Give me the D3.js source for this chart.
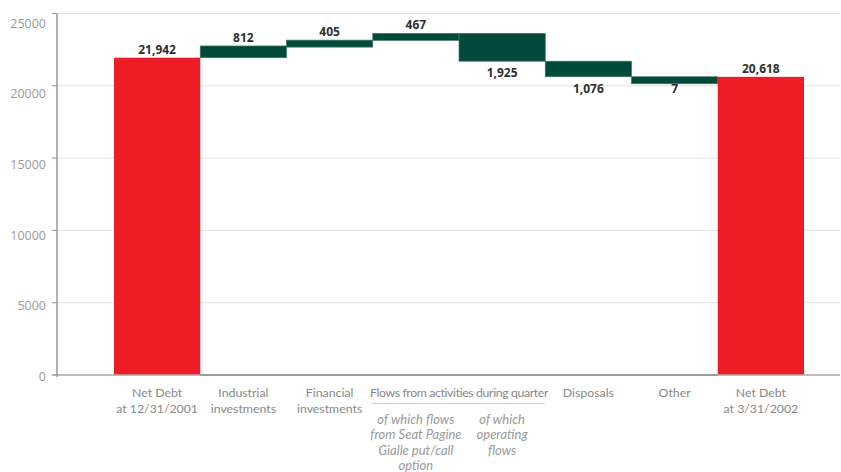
<!DOCTYPE html>
<html>
<head>
<meta charset="utf-8">
<script src="https://cdn.jsdelivr.net/npm/d3@7"></script>
<style>
  html, body { margin: 0; padding: 0; background: #fff; }
  svg { display: block; }
</style>
</head>
<body>
<svg id="chart" width="841" height="472"></svg>
<script>
// ---------------- DATA ----------------
const categories = ["start", "industrial", "financial", "seat", "operating", "disposals", "other", "end"];
const categoryLabels = [
  ["Net Debt", "at 12/31/2001"],
  ["Industrial", "investments"],
  ["Financial", "investments"],
  [],
  [],
  ["Disposals"],
  ["Other"],
  ["Net Debt", "at 3/31/2002"]
];
const subLabels = [
  [], [], [],
  ["of which flows", "from Seat Pagine", "Gialle put/call", "option"],
  ["of which", "operating", "flows"],
  [], [], []
];
const groupLabel = "Flows from activities during quarter";
const groupMembers = ["seat", "operating"];
const values = [21942, 812, 405, 467, -1925, -1076, -7, 20618];
const kinds = ["total", "delta", "delta", "delta", "delta", "delta", "delta", "total"];
const valueLabels = ["21,942", "812", "405", "467", "1,925", "1,076", "7", "20,618"];
const yTicks = [0, 5000, 10000, 15000, 20000, 25000];

// ---------------- LAYOUT ----------------
const svg = d3.select("#chart");
const axisX = 57, rightEdge = 840;
const y = d3.scaleLinear().domain([0, 25000]).range([375, 13.5]);
const yLabel = d3.scaleLinear().domain([0, 25000]).range([381, 27.5]);
const x = d3.scaleBand().domain(categories).range([114, 804]).padding(0);
const bw = x.bandwidth();

const RED = "#ee1c25", GREEN = "#004a3b";

// waterfall computation
let running = 0;
const bars = categories.map((c, i) => {
  let y0, y1;
  if (kinds[i] === "total") { y0 = 0; y1 = values[i]; running = values[i]; }
  else { y0 = running; y1 = running + values[i]; running = y1; }
  return { key: c, v: values[i], kind: kinds[i], lo: Math.min(y0, y1), hi: Math.max(y0, y1), label: valueLabels[i] };
});

// gridlines
svg.append("g").selectAll("line").data(yTicks.filter(d => d > 0)).join("line")
  .attr("x1", axisX - 5).attr("x2", rightEdge)
  .attr("y1", d => y(d)).attr("y2", d => y(d))
  .attr("stroke", "#e2e2e2").attr("stroke-width", 1);

// y tick marks
svg.append("g").selectAll("line").data(yTicks).join("line")
  .attr("x1", axisX - 5).attr("x2", axisX)
  .attr("y1", d => y(d)).attr("y2", d => y(d))
  .attr("stroke", "#999").attr("stroke-width", 1);

// y tick labels
svg.append("g").selectAll("text").data(yTicks).join("text")
  .attr("x", axisX - 11).attr("y", d => yLabel(d))
  .attr("text-anchor", "end")
  .attr("font-family", "'Open Sans', sans-serif").attr("font-size", 12.5)
  .attr("fill", "#9a9a9a")
  .text(d => d);

// bars
svg.append("g").selectAll("rect").data(bars).join("rect")
  .attr("x", d => x(d.key))
  .attr("width", bw)
  .attr("y", d => y(d.hi))
  .attr("height", d => Math.max(y(d.lo) - y(d.hi), d.kind === "delta" ? 7 : 0))
  .attr("fill", d => d.kind === "total" ? RED : GREEN)
  .attr("stroke", d => d.kind === "total" ? "none" : "#3f7566")
  .attr("stroke-width", 0.7);

// axes lines
svg.append("line")
  .attr("x1", axisX - 5).attr("x2", rightEdge).attr("y1", y(0)).attr("y2", y(0))
  .attr("stroke", "#a8a8a8").attr("stroke-width", 1.5);
svg.append("line")
  .attr("x1", x("industrial")).attr("x2", x("other") + bw).attr("y1", y(0)).attr("y2", y(0))
  .attr("stroke", "#85958f").attr("stroke-width", 1.5);
svg.append("line")
  .attr("x1", axisX).attr("x2", axisX).attr("y1", y(25000)).attr("y2", y(0) + 2)
  .attr("stroke", "#999").attr("stroke-width", 1.5);

// value labels
svg.append("g").selectAll("text").data(bars).join("text")
  .attr("x", d => x(d.key) + bw / 2)
  .attr("y", d => d.v >= 0 ? y(d.hi) - 4 : y(d.lo) + 16)
  .attr("text-anchor", "middle")
  .attr("font-family", "'Open Sans', sans-serif").attr("font-size", 12)
  .attr("font-weight", "bold")
  .attr("fill", "#2e2e2e")
  .text(d => d.label);

// category labels
const catFont = "Lato, 'Open Sans', sans-serif";
const lab = svg.append("g").attr("font-family", catFont).attr("font-size", 12.3).attr("fill", "#888");
categories.forEach((c, i) => {
  categoryLabels[i].forEach((line, j) => {
    lab.append("text")
      .attr("x", x(c) + bw / 2).attr("y", 397 + j * 15.5)
      .attr("text-anchor", "middle").text(line);
  });
  subLabels[i].forEach((line, j) => {
    lab.append("text")
      .attr("x", x(c) + bw / 2).attr("y", 424 + j * 15.3)
      .attr("text-anchor", "middle").attr("font-style", "italic")
      .attr("font-size", 13)
      .attr("fill", "#999").text(line);
  });
});

// group label
const gx0 = x(groupMembers[0]), gx1 = x(groupMembers[groupMembers.length - 1]) + bw;
lab.append("text")
  .attr("x", (gx0 + gx1) / 2).attr("y", 397)
  .attr("letter-spacing", -0.38)
  .attr("text-anchor", "middle").text(groupLabel);
lab.append("line")
  .attr("x1", gx0 - 1).attr("x2", gx1).attr("y1", 403.5).attr("y2", 403.5)
  .attr("stroke", "#d0d0d0").attr("stroke-width", 1);
</script>
</body>
</html>
